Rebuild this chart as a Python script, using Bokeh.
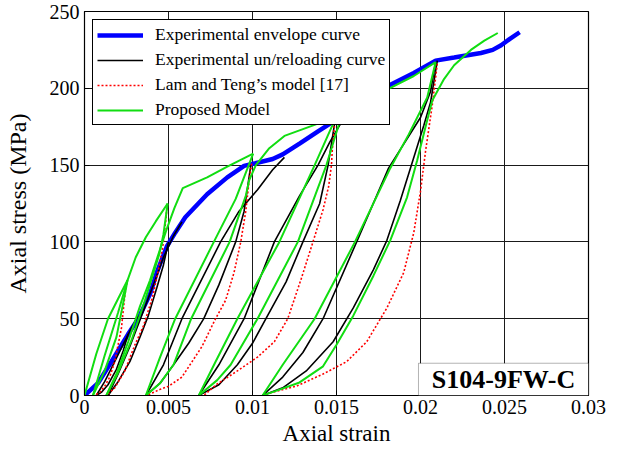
from bokeh.plotting import figure
from bokeh.models import Legend, LegendItem, Label, BoxAnnotation, FixedTicker, Range1d
from bokeh.embed import file_html
from bokeh.resources import INLINE

# ---------------- data (strain, stress MPa) ----------------
x_ticks = [0, 0.005, 0.01, 0.015, 0.02, 0.025, 0.03]
x_tick_labels = ["0", "0.005", "0.01", "0.015", "0.02", "0.025", "0.03"]
y_ticks = [0, 50, 100, 150, 200, 250]
y_tick_labels = ["0", "50", "100", "150", "200", "250"]

legend_labels = ["Experimental envelope curve", "Experimental un/reloading curve",
                 "Lam and Teng\u2019s model [17]", "Proposed Model"]
specimen = "S104-9FW-C"

envelope_exp = [(0, 0), (0.0008, 8), (0.0016, 22), (0.0026, 40), (0.0032, 50), (0.0039, 66),
                (0.0043, 80), (0.0049, 97), (0.0054, 106), (0.0060, 116), (0.0073, 131),
                (0.0085, 142), (0.0095, 149.5), (0.0101, 151), (0.0112, 154), (0.0118, 157),
                (0.0128, 164), (0.0139, 172), (0.0149, 179), (0.0162, 189), (0.0178, 200),
                (0.0196, 210), (0.0209, 218), (0.0220, 220), (0.0236, 223), (0.0243, 225),
                (0.0248, 228), (0.0253, 232), (0.0259, 236.5)]

exp_unload_1 = [(0.0026, 40), (0.0023, 29), (0.0019, 17), (0.0014, 7), (0.0010, 2), (0.0007, 0)]
exp_reload_1 = [(0.0007, 0), (0.0012, 9), (0.0017, 20), (0.0022, 31), (0.0027, 42), (0.0032, 52)]
exp_unload_2 = [(0.0050, 100), (0.0047, 85), (0.0043, 70), (0.0038, 52), (0.0033, 38),
                (0.0027, 22), (0.0020, 9), (0.0014, 0)]
exp_reload_2 = [(0.0014, 0), (0.0020, 14), (0.0027, 32), (0.0034, 52), (0.0041, 72),
                (0.0047, 90), (0.0053, 104), (0.0058, 113)]
exp_unload_3 = [(0.0099, 150), (0.0097, 135), (0.0095, 120), (0.0090, 100), (0.0080, 72),
                (0.0071, 50), (0.0062, 34), (0.0053, 20), (0.0045, 8), (0.00365, 0)]
exp_reload_3 = [(0.00365, 0), (0.0047, 20), (0.0058, 50), (0.0081, 100), (0.0092, 120),
                (0.0103, 134), (0.0112, 147), (0.0119, 155)]
exp_unload_4 = [(0.0149, 178), (0.0145, 150), (0.0140, 125), (0.0130, 100), (0.0120, 74),
                (0.0108, 50), (0.0100, 34), (0.0091, 20), (0.0080, 7), (0.0068, 0)]
exp_reload_4 = [(0.0068, 0), (0.0080, 20), (0.0095, 50), (0.0113, 100), (0.0128, 130),
                (0.0139, 150), (0.0146, 165), (0.0153, 178), (0.0157, 183)]
exp_unload_5 = [(0.0210, 218), (0.0206, 191), (0.0202, 176), (0.0194, 148), (0.0188, 127),
                (0.0180, 101), (0.0172, 82), (0.0160, 57), (0.0148, 35), (0.0132, 16),
                (0.0118, 5), (0.0106, 0)]
exp_reload_5 = [(0.0106, 0), (0.0118, 12), (0.0130, 28), (0.0142, 50), (0.0162, 100),
                (0.0181, 148), (0.0200, 181), (0.0206, 198), (0.0209, 217)]

lt_unload_1 = [(0.0025, 73), (0.0024, 65), (0.0022, 44), (0.0018, 22), (0.0015, 12),
               (0.0012, 6), (0.0009, 2), (0.0006, 0)]
lt_unload_2 = [(0.0049, 122), (0.00485, 115), (0.00465, 96), (0.00435, 79), (0.00405, 64),
               (0.0035, 45), (0.0030, 33), (0.0024, 16), (0.0018, 5), (0.0013, 0)]
lt_unload_3 = [(0.00995, 151), (0.0098, 140), (0.0096, 120), (0.0093, 100), (0.0089, 80),
               (0.0084, 62), (0.0078, 50), (0.0070, 32), (0.0064, 22), (0.0058, 12),
               (0.0050, 6), (0.0045, 4), (0.0037, 0)]
lt_unload_4 = [(0.0149, 178), (0.01475, 160), (0.0147, 150), (0.01453, 136), (0.0142, 121),
               (0.0136, 100), (0.0129, 76), (0.0121, 50), (0.0113, 35), (0.0103, 25),
               (0.0091, 16), (0.0079, 7.5), (0.0071, 0)]
lt_unload_5 = [(0.0210, 216), (0.0207, 189), (0.0203, 159), (0.0200, 133), (0.0196, 106),
               (0.0190, 80), (0.0180, 57), (0.0168, 35), (0.0156, 22), (0.0142, 14),
               (0.0126, 6), (0.0110, 1.5), (0.0106, 0)]

prop_envelope = [(0, 0), (0.0007, 27), (0.0014, 50), (0.0020, 63), (0.00256, 75),
                 (0.00305, 90), (0.00365, 103), (0.00425, 113.5), (0.00495, 125)]
prop_unload_1 = [(0.00256, 75), (0.0023, 60), (0.0019, 38), (0.0012, 16), (0.0005, 0)]
prop_reload_1 = [(0.0005, 0), (0.0012, 26), (0.0020, 54), (0.00256, 75)]
prop_unload_2 = [(0.00495, 125), (0.0047, 105), (0.00445, 92), (0.0036, 62), (0.0028, 36),
                 (0.0020, 15), (0.0013, 0)]
prop_reload_2 = [(0.0013, 0), (0.0019, 14), (0.0026, 35), (0.0033, 58), (0.0039, 75),
                 (0.0044, 92), (0.00485, 107), (0.00535, 122), (0.00585, 135), (0.0073, 142),
                 (0.0085, 149), (0.01004, 157.5)]
prop_unload_3 = [(0.01004, 157.5), (0.0090, 128), (0.0077, 100), (0.0054, 50), (0.0045, 25),
                 (0.00365, 0)]
prop_reload_3 = [(0.00365, 0), (0.0045, 8), (0.0053, 20), (0.00635, 50), (0.00864, 100),
                 (0.0096, 130), (0.0098, 140), (0.0102, 150), (0.0110, 161), (0.0119, 169),
                 (0.0139, 177), (0.0149, 179.5)]
prop_unload_4 = [(0.0149, 179.5), (0.0137, 150), (0.0116, 100), (0.0091, 50), (0.0078, 22),
                 (0.0068, 0)]
prop_reload_4 = [(0.0068, 0), (0.0079, 10), (0.0087, 20), (0.0103, 50), (0.0127, 100),
                 (0.0144, 150), (0.0149, 168), (0.0153, 182), (0.0162, 189), (0.0178, 198),
                 (0.0196, 208), (0.0209, 217)]
prop_unload_5 = [(0.0209, 217), (0.0204, 194), (0.0193, 170), (0.0182, 148), (0.0161, 100),
                 (0.0137, 50), (0.0118, 20), (0.0106, 0)]
prop_reload_5 = [(0.0106, 0), (0.0114, 3), (0.0128, 8.5), (0.0142, 19), (0.0150, 33),
                 (0.0160, 52), (0.0172, 78), (0.0182, 101), (0.0192, 129), (0.0198, 153),
                 (0.0203, 175), (0.0207, 192), (0.0214, 206), (0.0220, 215), (0.0230, 225),
                 (0.0238, 231), (0.0246, 236)]

exp_cycles = [exp_unload_1, exp_reload_1, exp_unload_2, exp_reload_2, exp_unload_3,
              exp_reload_3, exp_unload_4, exp_reload_4, exp_unload_5, exp_reload_5]
lt_cycles = [lt_unload_1, lt_unload_2, lt_unload_3, lt_unload_4, lt_unload_5]
prop_curves = [prop_envelope, prop_unload_1, prop_reload_1, prop_unload_2, prop_reload_2,
               prop_unload_3, prop_reload_3, prop_unload_4, prop_reload_4, prop_unload_5,
               prop_reload_5]

# ---------------- figure ----------------
FONT = "Liberation Serif"

p = figure(width=621, height=450, x_range=Range1d(0, 0.03), y_range=Range1d(0, 250),
           output_backend="svg", toolbar_location=None,
           min_border_left=84, min_border_right=33, min_border_top=11, min_border_bottom=55)
p.background_fill_color = "white"
p.border_fill_color = "white"
p.outline_line_color = "black"
p.outline_line_width = 1.2
p.outline_line_alpha = 1.0


def xy(curve):
    return [c[0] for c in curve], [c[1] for c in curve]


xs, ys = xy(envelope_exp)
r_env = p.line(xs, ys, line_color="#0000ff", line_width=4.5)

r_exp = []
for c in exp_cycles:
    xs, ys = xy(c)
    r_exp.append(p.line(xs, ys, line_color="black", line_width=1.6))

r_lt = []
for c in lt_cycles:
    xs, ys = xy(c)
    r_lt.append(p.line(xs, ys, line_color="#ff0000", line_width=1.6, line_dash="2 2"))

r_prop = []
for c in prop_curves:
    xs, ys = xy(c)
    r_prop.append(p.line(xs, ys, line_color="#11dd11", line_width=2))

# axes
p.xaxis.ticker = FixedTicker(ticks=x_ticks)
p.yaxis.ticker = FixedTicker(ticks=y_ticks)
p.xaxis.major_label_overrides = {t: l for t, l in zip(x_ticks, x_tick_labels)}
p.yaxis.major_label_overrides = {t: l for t, l in zip(y_ticks, y_tick_labels)}
p.xaxis.axis_label = "Axial strain"
p.yaxis.axis_label = "Axial stress (MPa)"
for ax in (p.xaxis, p.yaxis):
    ax.axis_label_text_font = FONT
    ax.axis_label_text_font_style = "normal"
    ax.axis_label_text_color = "black"
    ax.major_label_text_font = FONT
    ax.major_label_text_font_size = "20px"
    ax.major_label_text_color = "black"
    ax.major_tick_in = 5
    ax.major_tick_out = 0
    ax.minor_tick_line_color = None
    ax.axis_line_color = "black"
    ax.major_tick_line_color = "black"
p.xaxis.axis_label_text_font_size = "23px"
p.yaxis.axis_label_text_font_size = "24px"
p.xaxis.major_label_standoff = 4
p.xaxis.axis_label_standoff = 4
p.yaxis.major_label_standoff = 5
p.yaxis.axis_label_standoff = 16

p.xgrid.grid_line_color = "#1a1a1a"
p.ygrid.grid_line_color = "#1a1a1a"
p.xgrid.grid_line_alpha = 1.0
p.ygrid.grid_line_alpha = 1.0
p.xgrid.grid_line_width = 1
p.ygrid.grid_line_width = 1

# legend
legend = Legend(items=[
    LegendItem(label=legend_labels[0], renderers=[r_env]),
    LegendItem(label=legend_labels[1], renderers=[r_exp[0]]),
    LegendItem(label=legend_labels[2], renderers=[r_lt[0]]),
    LegendItem(label=legend_labels[3], renderers=[r_prop[0]]),
], location="top_left")
legend.margin = 8
legend.padding = 4
legend.spacing = 4
legend.glyph_width = 46
legend.glyph_height = 18
legend.label_height = 18
legend.label_standoff = 12
legend.label_text_font = FONT
legend.label_text_font_size = "17.5px"
legend.label_text_color = "black"
legend.border_line_color = "black"
legend.border_line_width = 1
legend.border_line_alpha = 1.0
legend.background_fill_color = "white"
legend.background_fill_alpha = 1.0
p.add_layout(legend, "center")

# specimen tag
box = BoxAnnotation(left=0.01988, right=0.03, bottom=0, top=21,
                    fill_color="white", fill_alpha=1.0, line_color="black", line_width=1)
p.add_layout(box)
tag = Label(x=0.02494, y=10.5, text=specimen, text_align="center", text_baseline="middle",
            text_font=FONT, text_font_style="bold", text_font_size="26px", text_color="black")
p.add_layout(tag)

open("out.html", "w").write(file_html(p, INLINE))
